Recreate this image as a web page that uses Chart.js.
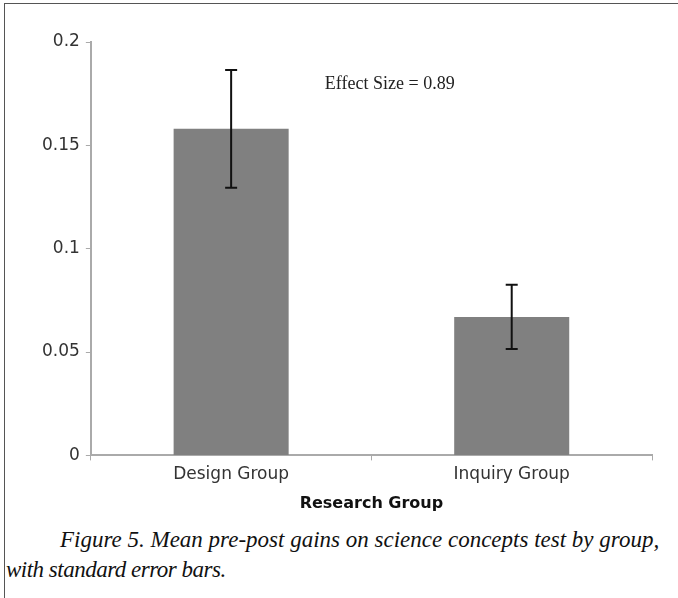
<!DOCTYPE html>
<html>
<head>
<meta charset="utf-8">
<script src="https://cdn.jsdelivr.net/npm/chart.js@4"></script>
<style>
  html, body { margin: 0; padding: 0; background: #fff; }
  #page { position: relative; width: 678px; height: 598px; overflow: hidden; }
  #frame { position: absolute; left: 4px; top: 3px; width: 680px; height: 600px;
           border-top: 1.5px solid #555; border-left: 1.5px solid #555; }
  #wrap { position: absolute; left: 0; top: 0; width: 678px; height: 520px; }
  .caption { position: absolute; font-family: "Liberation Serif", serif; font-style: italic;
             font-size: 23px; color: #111; white-space: nowrap; line-height: 30px; }
</style>
</head>
<body>
<div id="page">
  <div id="frame"></div>
  <div id="wrap"><canvas id="grafico"></canvas></div>
  <div class="caption" style="left:60px; top:525px;">Figure 5. Mean pre-post gains on science concepts test by group,</div>
  <div class="caption" style="left:6px; top:555px; letter-spacing:-0.5px;">with standard error bars.</div>
</div>
<script>
// Datos
const grupos = ["Design Group", "Inquiry Group"];
const ganancias = [0.158, 0.067];
const erroresEstandar = [0.0285, 0.0155];
const tamanoEfecto = "Effect Size = 0.89";

// Plugin para barras de error y la nota del tamaño del efecto
const barrasError = {
  id: "barrasError",
  afterDatasetsDraw(chart) {
    const ctx = chart.ctx;
    const y = chart.scales.y;
    const meta = chart.getDatasetMeta(0);
    ctx.save();
    ctx.strokeStyle = "#111";
    ctx.lineWidth = 2;
    meta.data.forEach((barra, i) => {
      const x = barra.x;
      const arriba = y.getPixelForValue(ganancias[i] + erroresEstandar[i]);
      const abajo = y.getPixelForValue(ganancias[i] - erroresEstandar[i]);
      ctx.beginPath();
      ctx.moveTo(x, arriba);
      ctx.lineTo(x, abajo);
      ctx.moveTo(x - 6, arriba);
      ctx.lineTo(x + 6, arriba);
      ctx.moveTo(x - 6, abajo);
      ctx.lineTo(x + 6, abajo);
      ctx.stroke();
    });
    // Nota del tamaño del efecto
    const area = chart.chartArea;
    ctx.fillStyle = "#222";
    ctx.font = '18px "Liberation Serif"';
    ctx.textBaseline = "middle";
    ctx.fillText(tamanoEfecto, area.left + 234, area.top + 42);
    ctx.restore();
  },
};

const ctx = document.getElementById("grafico").getContext("2d");
new Chart(ctx, {
  type: "bar",
  data: {
    labels: grupos,
    datasets: [
      {
        label: "Mean gain",
        data: ganancias,
        backgroundColor: "#808080",
        borderWidth: 0,
        categoryPercentage: 1,
        barPercentage: 0.41,
      },
    ],
  },
  options: {
    responsive: true,
    maintainAspectRatio: false,
    animation: false,
    layout: { padding: { left: 36, right: 26, top: 42, bottom: 7 } },
    plugins: {
      legend: { display: false },
      tooltip: { enabled: false },
    },
    scales: {
      x: {
        grid: { display: true, drawOnChartArea: false, drawTicks: true, tickLength: 5, color: "#aaa", offset: true },
        border: { color: "#aaa", width: 2 },
        ticks: { color: "#333", font: { family: "DejaVu Sans", size: 17 }, padding: 4 },
        title: {
          display: true,
          text: "Research Group",
          color: "#111",
          font: { family: "DejaVu Sans", size: 16, weight: "bold" },
          padding: { top: 5, bottom: 0 },
        },
      },
      y: {
        min: 0,
        max: 0.2,
        grid: { display: true, drawOnChartArea: false, drawTicks: true, tickLength: 5, color: "#aaa" },
        border: { color: "#aaa", width: 2 },
        ticks: {
          stepSize: 0.05,
          color: "#333",
          font: { family: "DejaVu Sans", size: 17 },
          padding: 6,
          callback: (valor) => String(+valor.toFixed(2)),
        },
      },
    },
  },
  plugins: [barrasError],
});
</script>
</body>
</html>
